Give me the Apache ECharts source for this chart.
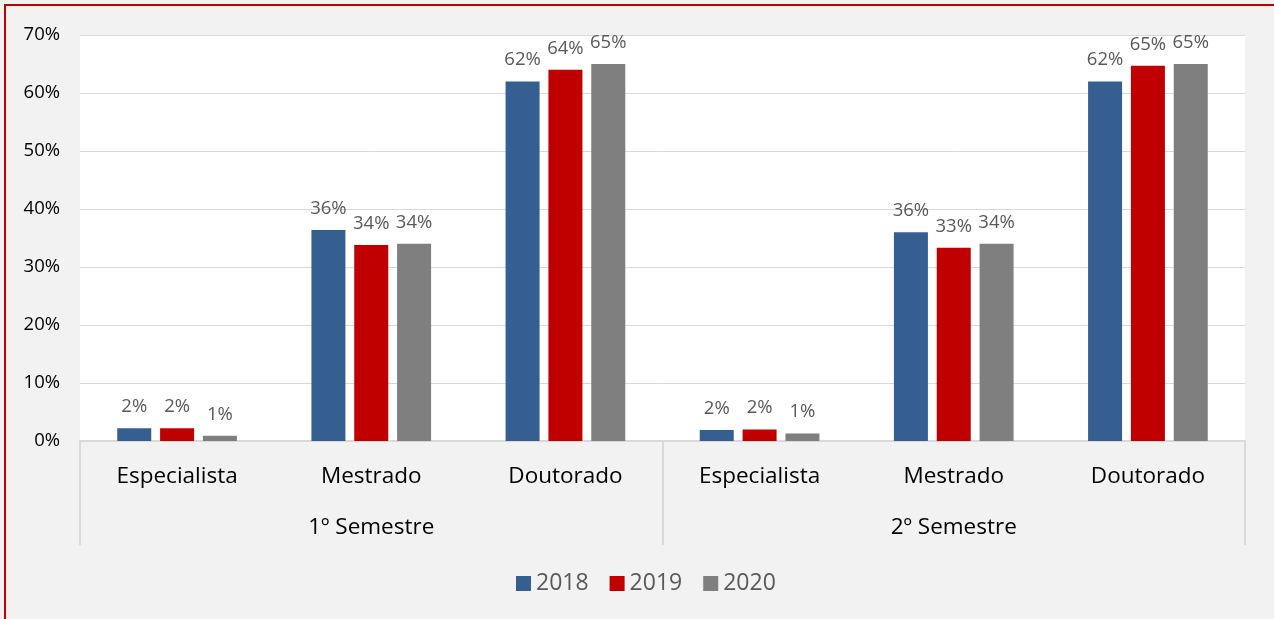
<!DOCTYPE html>
<html>
<head>
<meta charset="utf-8">
<script src="https://cdn.jsdelivr.net/npm/echarts@6/dist/echarts.min.js"></script>
<style>
  html, body { margin: 0; padding: 0; background: #f2f2f2; }
  #main { width: 1274px; height: 619px; }
</style>
</head>
<body>
<div id="main"></div>
<script>
const levels = ['Especialista', 'Mestrado', 'Doutorado', 'Especialista', 'Mestrado', 'Doutorado']
const semesters = ['1º Semestre', '2º Semestre']
const years = ['2018', '2019', '2020']
const colors = ['#355f91', '#c00000', '#7f7f7f']
const v2018 = [2.2, 36.4, 62.0, 1.9, 36.0, 62.0]
const v2019 = [2.2, 33.8, 64.0, 2.0, 33.3, 64.7]
const v2020 = [0.9, 34.0, 65.0, 1.3, 34.0, 65.0]
const yTicks = [0, 10, 20, 30, 40, 50, 60, 70]

const chart = echarts.init(document.getElementById('main'))
const font = '"Open Sans", "Noto Sans", sans-serif'

const series = [v2018, v2019, v2020].map((arr, i) => ({
    name: years[i],
    type: 'bar',
    xAxisIndex: 0,
    data: arr,
    barWidth: 34,
    barGap: '26%',
    itemStyle: { color: colors[i] },
    label: {
        show: true,
        position: 'top',
        distance: 12,
        color: '#595959',
        fontSize: 18.5,
        fontFamily: font,
        formatter: p => Math.round(p.value) + '%'
    }
}))

const option = {
    backgroundColor: '#f2f2f2',
    animation: false,
    textStyle: { fontFamily: font },
    graphic: [{
        type: 'rect',
        shape: { x: 5, y: 5, width: 1400, height: 800 },
        style: { fill: 'none', stroke: '#c00000', lineWidth: 2 },
        silent: true
    }],
    grid: {
        left: 80, right: 29, top: 35, bottom: 178,
        show: true, backgroundColor: '#ffffff', borderWidth: 0
    },
    legend: {
        data: years,
        left: 511,
        top: 567,
        itemWidth: 15,
        itemHeight: 15,
        itemGap: 21,
        icon: 'rect',
        textStyle: { color: '#595959', fontSize: 23, fontFamily: font }
    },
    xAxis: [{
        type: 'category',
        data: levels,
        axisLine: { show: true, lineStyle: { color: '#d9d9d9', width: 2 } },
        axisTick: { show: false },
        axisLabel: { color: '#000', fontSize: 22.5, margin: 24, fontFamily: font, interval: 0 }
    }, {
        type: 'category',
        data: semesters,
        position: 'bottom',
        axisLine: { show: false },
        axisTick: { show: true, length: 104, interval: 0, lineStyle: { color: '#d9d9d9', width: 2 } },
        axisLabel: { color: '#000', fontSize: 22.5, margin: 75, fontFamily: font, interval: 0 }
    }],
    yAxis: {
        type: 'value',
        min: yTicks[0],
        max: yTicks[yTicks.length - 1],
        interval: 10,
        axisLine: { show: false },
        axisTick: { show: false },
        splitLine: { lineStyle: { color: '#d9d9d9', width: 1 } },
        axisLabel: { color: '#000', fontSize: 18.5, margin: 20, fontFamily: font, formatter: '{value}%' }
    },
    series: series
}
chart.setOption(option)
</script>
</body>
</html>
